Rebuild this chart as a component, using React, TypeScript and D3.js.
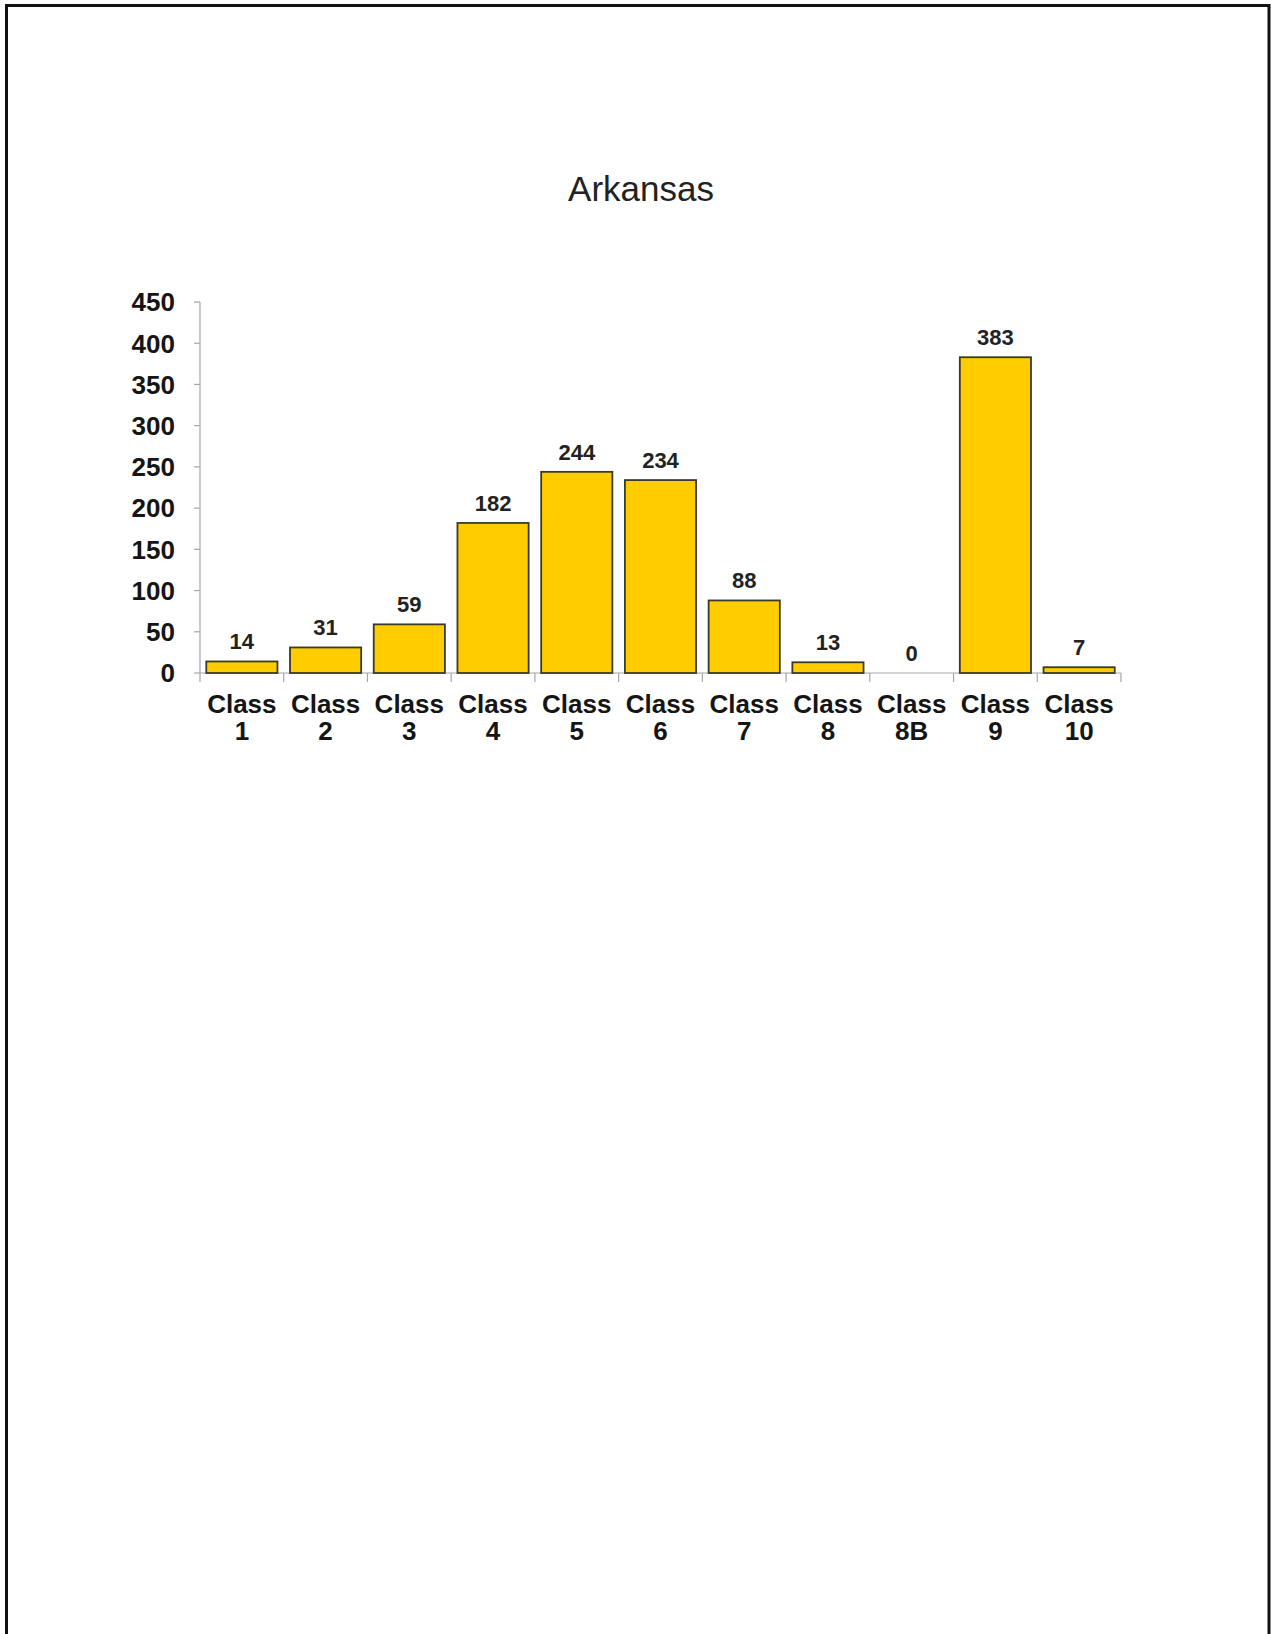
import React from "react";
import * as d3 from "d3";

const title = "Arkansas";
const categories = ["Class 1", "Class 2", "Class 3", "Class 4", "Class 5", "Class 6", "Class 7", "Class 8", "Class 8B", "Class 9", "Class 10"];
const values = [14, 31, 59, 182, 244, 234, 88, 13, 0, 383, 7];
const yTicks = [0, 50, 100, 150, 200, 250, 300, 350, 400, 450];

const W = 1271;
const H = 1634;
const left = 200;
const right = 1121;
const top = 302;
const bottom = 673;
const font = "'Liberation Sans', Arial, Helvetica, sans-serif";

export default function App() {
  const x = d3.scaleBand<string>().domain(categories).range([left, right]).paddingInner(0.15).paddingOuter(0.075);
  const y = d3.scaleLinear().domain([0, 450]).range([bottom, top]);
  const step = x.step();
  const axisColor = "#a6a6a6";

  return (
    <div style={{ position: "absolute", left: 0, top: 0, width: W, height: H, overflow: "hidden" }}>
      <svg width={W} height={H} style={{ display: "block" }} fontFamily={font}>
        <rect x={0} y={0} width={W} height={H} fill="#fff" />
        <rect x={6.5} y={5.5} width={1262.5} height={1640} fill="none" stroke="#111" strokeWidth={3} />
        <text x={641} y={201} textAnchor="middle" fontSize={35} fill="#222">{title}</text>

        {/* y axis */}
        <line x1={left} x2={left} y1={top} y2={bottom} stroke={axisColor} strokeWidth={1.2} />
        {yTicks.map((t) => (
          <g key={t}>
            <line x1={left - 6} x2={left} y1={y(t)} y2={y(t)} stroke={axisColor} strokeWidth={1.2} />
            <text x={175} y={y(t)} dy="0.36em" textAnchor="end" fontSize={26} fontWeight="bold" fill="#151515">{t}</text>
          </g>
        ))}

        {/* x axis */}
        <line x1={left} x2={right} y1={bottom} y2={bottom} stroke={axisColor} strokeWidth={1.2} />
        {d3.range(categories.length + 1).map((i) => (
          <line key={i} x1={left + i * step} x2={left + i * step} y1={bottom} y2={bottom + 9} stroke={axisColor} strokeWidth={1.2} />
        ))}

        {/* bars */}
        {categories.map((c, i) => {
          const v = values[i];
          const bx = x(c) as number;
          const bw = x.bandwidth();
          return (
            <g key={c}>
              {v > 0 && (
                <rect x={bx} y={y(v)} width={bw} height={y(0) - y(v)} fill="#FFCC00" stroke="#3a3a2a" strokeWidth={1.8} />
              )}
              <text x={bx + bw / 2} y={y(v) - 12} textAnchor="middle" fontSize={22} fontWeight="bold" fill="#222">{v}</text>
              {c.split(" ").map((part, j) => (
                <text key={j} x={bx + bw / 2} y={713 + j * 27} textAnchor="middle" fontSize={26} fontWeight="bold" fill="#151515">{part}</text>
              ))}
            </g>
          );
        })}
      </svg>
    </div>
  );
}
